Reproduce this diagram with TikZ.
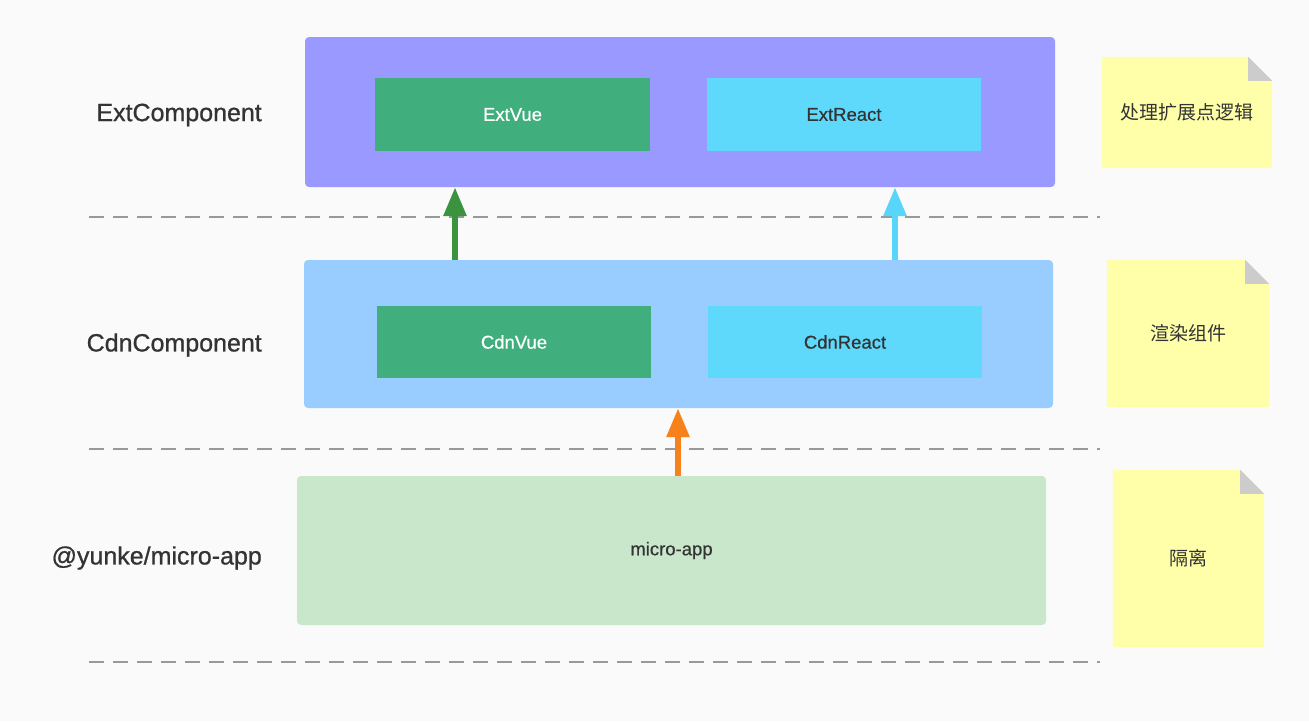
\documentclass[tikz,border=0pt]{standalone}
\usepackage{fontspec}
\setmainfont{Liberation Sans}
\newfontfamily\medfont[FakeBold=0.8]{Liberation Sans}
\newfontfamily\semifont[FakeBold=0.5]{Liberation Sans}
\newfontfamily\cjk{Noto Sans CJK SC}
\usetikzlibrary{arrows.meta}
\definecolor{bg}{HTML}{FAFAFA}
\definecolor{extbg}{HTML}{9999FF}
\definecolor{cdnbg}{HTML}{99CCFF}
\definecolor{microbg}{HTML}{C9E7CB}
\definecolor{vuegreen}{HTML}{40AF7D}
\definecolor{reactblue}{HTML}{5FD9FB}
\definecolor{notey}{HTML}{FFFFAA}
\definecolor{foldgray}{HTML}{CCCCCC}
\definecolor{txt}{HTML}{333333}
\definecolor{dashgray}{HTML}{999999}
\definecolor{arrgreen}{HTML}{3B923F}
\definecolor{arrcyan}{HTML}{5AD5FA}
\definecolor{arrorange}{HTML}{F7821B}
\tikzset{
  layerbox/.style={rectangle, rounded corners=4pt, inner sep=0pt},
  innerbox/.style={rectangle, inner sep=0pt, font=\semifont\fontsize{18.5}{20}\selectfont},
  sidelabel/.style={anchor=east, inner sep=0pt, text=txt, font=\medfont\fontsize{25}{28}\selectfont},
  notebox/.style={rectangle, inner sep=0pt, text=txt, font=\cjk\fontsize{19}{22}\selectfont},
  sepline/.style={dashgray, line width=1.6pt, dash pattern=on 15pt off 9pt},
  uparrow/.style={line width=6pt, -{Triangle[width=22pt,length=29pt]}},
}
\begin{document}
\begin{tikzpicture}[x=1pt,y=-1pt]
\useasboundingbox (0,0) rectangle (1309,721);
\fill[bg] (0,0) rectangle (1309,721);

% layer boxes
\node[layerbox, fill=extbg, minimum width=750pt, minimum height=150pt] (ext) at (680,112) {};
\node[layerbox, fill=cdnbg, minimum width=749pt, minimum height=148pt] (cdn) at (678.5,334) {};
\node[layerbox, fill=microbg, minimum width=749pt, minimum height=149pt, text=txt, font=\semifont\fontsize{18.5}{20}\selectfont] (micro) at (671.5,550.5) {micro-app};

% inner boxes
\node[innerbox, fill=vuegreen, text=white, minimum width=275pt, minimum height=73pt] (extvue) at (512.5,114.5) {ExtVue};
\node[innerbox, fill=reactblue, text=txt, minimum width=274pt, minimum height=73pt] (extreact) at (844,114.5) {ExtReact};
\node[innerbox, fill=vuegreen, text=white, minimum width=274pt, minimum height=72pt] (cdnvue) at (514,342) {CdnVue};
\node[innerbox, fill=reactblue, text=txt, minimum width=274pt, minimum height=72pt] (cdnreact) at (845,342) {CdnReact};

% side labels
\node[sidelabel] (lext) at (262,115) {ExtComponent};
\node[sidelabel] (lcdn) at (262,345) {CdnComponent};
\node[sidelabel] (lmicro) at (262,558) {@yunke/micro-app};

% dashed separators
\coordinate (d1a) at (89,217); \coordinate (d1b) at (1100,217);
\coordinate (d2a) at (89,449); \coordinate (d2b) at (1100,449);
\coordinate (d3a) at (89,662); \coordinate (d3b) at (1100,662);
\draw[sepline] (d1a) -- (d1b);
\draw[sepline] (d2a) -- (d2b);
\draw[sepline] (d3a) -- (d3b);

% arrows
\coordinate (ga) at (455,0); \coordinate (ca) at (895,0); \coordinate (oa) at (678,0);
\draw[uparrow, arrgreen] (ga |- cdn.north) -- (ga |- ext.south);
\draw[uparrow, arrcyan] (ca |- cdn.north) -- (ca |- ext.south);
\draw[uparrow, arrorange] (oa |- micro.north) -- (oa |- cdn.south);

% notes
\foreach \nm/\cx/\cy/\w/\h/\t in {n1/1187/112.5/170/111/处理扩展点逻辑, n2/1188/333.5/162/147/渲染组件, n3/1188.5/558.5/151/177/隔离}{
  \node[notebox, minimum width=\w pt, minimum height=\h pt] (\nm) at (\cx,\cy) {};
  \fill[notey] (\nm.south west) -- (\nm.north west) -- ([xshift=-24pt]\nm.north east) -- ([yshift=-24pt]\nm.north east) -- (\nm.south east) -- cycle;
  \fill[foldgray] ([xshift=-24pt]\nm.north east) -- ([xshift=-24pt,yshift=-24pt]\nm.north east) -- ([yshift=-24pt]\nm.north east) -- cycle;
  \node[notebox] at (\nm.center) {\t};
}
\end{tikzpicture}
\end{document}
